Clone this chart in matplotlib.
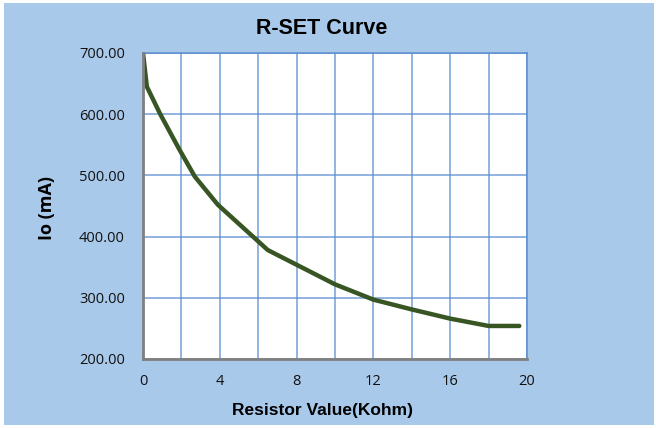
import matplotlib
matplotlib.use("Agg")
import matplotlib.pyplot as plt
from matplotlib.patches import Rectangle

resistance_kohm = [0.0, 0.2, 0.9, 1.9, 2.7, 3.9, 5.2, 6.5, 8.0, 10.0, 12.0, 14.0, 16.0, 18.0, 19.6]
current_ma = [700, 645, 600, 542, 498, 452, 415, 378, 354, 322, 297, 281, 266, 254, 254]
x_ticks = [0, 4, 8, 12, 16, 20]
y_ticks = [200, 300, 400, 500, 600, 700]

bg = "#A9C9EA"
grid_c = "#5A8ED0"

fig = plt.figure(figsize=(6.56, 4.28), dpi=100)
fig.patch.set_facecolor("white")
fig.patches.append(Rectangle((4/656, 3/428), 650/656, 422/428, transform=fig.transFigure,
                             facecolor=bg, edgecolor="none", zorder=-10))

ax = fig.add_axes([143/656, 1-359/428, 384/656, 306/428])
ax.set_facecolor("white")
ax.plot(resistance_kohm, current_ma, color="#375623", lw=3.2, solid_capstyle="round",
        solid_joinstyle="round", zorder=3)
ax.set_xlim(0, 20)
ax.set_ylim(200, 700)
ax.set_xticks(range(0, 21, 2))
ax.set_xticklabels([str(v) if v in x_ticks else "" for v in range(0, 21, 2)])
ax.set_yticks(y_ticks)
ax.set_yticklabels([f"{v:.2f}" for v in y_ticks])
ax.grid(True, color=grid_c, lw=1.1, alpha=0.85)
ax.set_axisbelow(True)
ax.tick_params(length=0, labelsize=10.5, labelcolor="#111111")
ax.tick_params(axis="y", pad=13)
ax.tick_params(axis="x", pad=11)
for lab in ax.get_xticklabels() + ax.get_yticklabels():
    lab.set_family(["Open Sans", "DejaVu Sans"])
for s in ["top", "right"]:
    ax.spines[s].set_color(grid_c)
    ax.spines[s].set_linewidth(1.1)
for s in ["left", "bottom"]:
    ax.spines[s].set_color("#7F7F7F")
    ax.spines[s].set_linewidth(2)
    ax.spines[s].set_zorder(4)

fig.text(323/656, 1-410/428, "Resistor Value(Kohm)", fontsize=12.5, fontweight="bold",
         family="Liberation Sans", ha="center", va="center")
fig.text(47/656, 1-208/428, "Io (mA)", fontsize=13, fontweight="bold", family="Open Sans",
         rotation=90, ha="center", va="center")
fig.text(322/656, 1-28/428, "R-SET Curve", fontsize=15.5, fontweight="bold",
         family="Liberation Sans", ha="center", va="center")

fig.savefig("out.png", dpi=100, facecolor=fig.get_facecolor())
